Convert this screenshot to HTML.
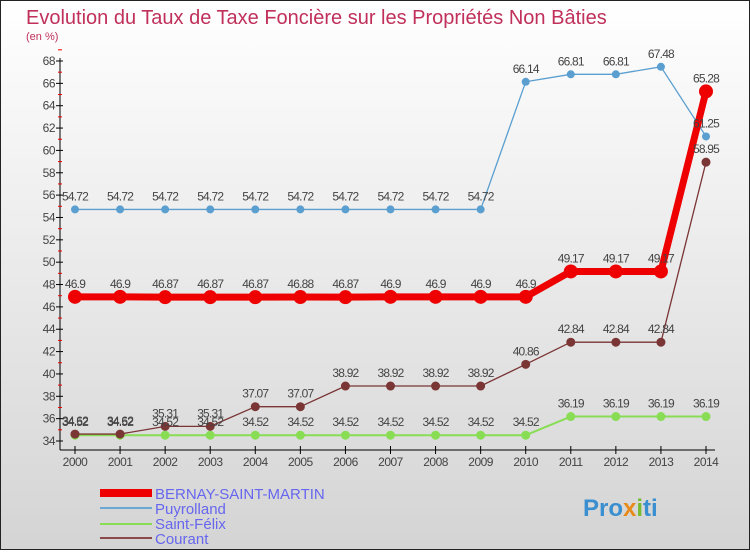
<!DOCTYPE html>
<html><head><meta charset="utf-8"><style>
html,body{margin:0;padding:0;}
body{width:750px;height:550px;overflow:hidden;font-family:"Liberation Sans",sans-serif;}
</style></head><body>
<svg id="chart" width="750" height="550" xmlns="http://www.w3.org/2000/svg">
<defs><linearGradient id="bg" x1="0" y1="0" x2="0" y2="1"><stop offset="0" stop-color="#ffffff"/><stop offset="1" stop-color="#d4d4d4"/></linearGradient></defs>
<rect x="0.5" y="0.5" width="749" height="549" fill="url(#bg)" stroke="#222"/>
<text x="26" y="24" font-size="20" fill="#c0305a">Evolution du Taux de Taxe Foncière sur les Propriétés Non Bâties</text>
<text x="26" y="40" font-size="11" fill="#c0305a">(en %)</text>
<g id="axes"></g><g id="series"></g><g id="labels"></g>
<g>
<rect x="100" y="489" width="52" height="8" fill="#ee0000"/>
<text x="155" y="499" font-size="15" fill="#6666ee">BERNAY-SAINT-MARTIN</text>
<rect x="100" y="507" width="52" height="2" fill="#6aa7d4"/>
<text x="155" y="514" font-size="15" fill="#6666ee">Puyrolland</text>
<rect x="100" y="523" width="52" height="2" fill="#88dd55"/>
<text x="155" y="529" font-size="15" fill="#6666ee">Saint-Félix</text>
<rect x="100" y="537" width="52" height="2" fill="#8a4a4a"/>
<text x="155" y="544" font-size="15" fill="#6666ee">Courant</text>
</g>
<text x="583" y="516" font-size="24" font-weight="bold" fill="#3a8fd0">Pro<tspan fill="#e88a1a">x</tspan><tspan fill="#77bb33">i</tspan>ti</text>
</svg>
<script>
const years=[2000,2001,2002,2003,2004,2005,2006,2007,2008,2009,2010,2011,2012,2013,2014];
const bernay=[46.9,46.9,46.87,46.87,46.87,46.88,46.87,46.9,46.9,46.9,46.9,49.17,49.17,49.17,65.28];
const puyrolland=[54.72,54.72,54.72,54.72,54.72,54.72,54.72,54.72,54.72,54.72,66.14,66.81,66.81,67.48,61.25];
const saintFelix=[34.52,34.52,34.52,34.52,34.52,34.52,34.52,34.52,34.52,34.52,34.52,36.19,36.19,36.19,36.19];
const courant=[34.62,34.62,35.31,35.31,37.07,37.07,38.92,38.92,38.92,38.92,40.86,42.84,42.84,42.84,58.95];
const yTicks=[34,36,38,40,42,44,46,48,50,52,54,56,58,60,62,64,66,68];
const NS="http://www.w3.org/2000/svg";
const x=i=>75+i*(706-75)/(years.length-1);
const y=v=>441-(v-34)*(441-61)/34;
function mk(tag,attrs,parent){const e=document.createElementNS(NS,tag);for(const k in attrs)e.setAttribute(k,attrs[k]);parent.appendChild(e);return e;}
const axes=document.getElementById('axes'),ser=document.getElementById('series'),lab=document.getElementById('labels');
let a=mk('line',{x1:60,y1:58,x2:60,y2:450,stroke:'#000'},axes);


a=mk('line',{x1:60,y1:450,x2:715,y2:450,stroke:'#000'},axes);


yTicks.forEach(t=>{
 mk('line',{x1:56,y1:y(t),x2:63,y2:y(t),stroke:'#000'},axes);
 mk('line',{x1:58,y1:y(t+1),x2:62,y2:y(t+1),stroke:'#e00'},axes);
 const tx=mk('text',{x:55,y:y(t)+4,'font-size':12,fill:'#444','text-anchor':'end','letter-spacing':'-0.5'},axes);
 tx.textContent=t;
 
 
});
years.forEach((yr,i)=>{
 mk('line',{x1:x(i),y1:446,x2:x(i),y2:454,stroke:'#000'},axes);
 const tx=mk('text',{x:x(i),y:466,'font-size':12,fill:'#444','text-anchor':'middle','letter-spacing':'-0.5'},axes);
 tx.textContent=yr;
 
 
});
function series(vals,color,w,r,name){
 const pts=vals.map((v,i)=>x(i)+','+y(v)).join(' ');
 const pl=mk('polyline',{points:pts,fill:'none',stroke:color,'stroke-width':w,'stroke-linejoin':'round'},ser);
 
 
 vals.forEach((v,i)=>{
  const c=mk('circle',{cx:x(i),cy:y(v),r:r,fill:color},ser);
  
  
  const t=mk('text',{x:x(i),y:y(v)-9,'font-size':12,fill:'#444','text-anchor':'middle','letter-spacing':'-0.8'},lab);
  t.textContent=v;
  
  
 });
}
series(puyrolland,'#5a9fd0',1.3,4,'puyrolland');
series(saintFelix,'#88dd55',2,4.5,'saint-felix');
series(courant,'#7a3535',1.3,4.5,'courant');
series(bernay,'#ee0000',7,7,'bernay');
</script>
</body></html>
